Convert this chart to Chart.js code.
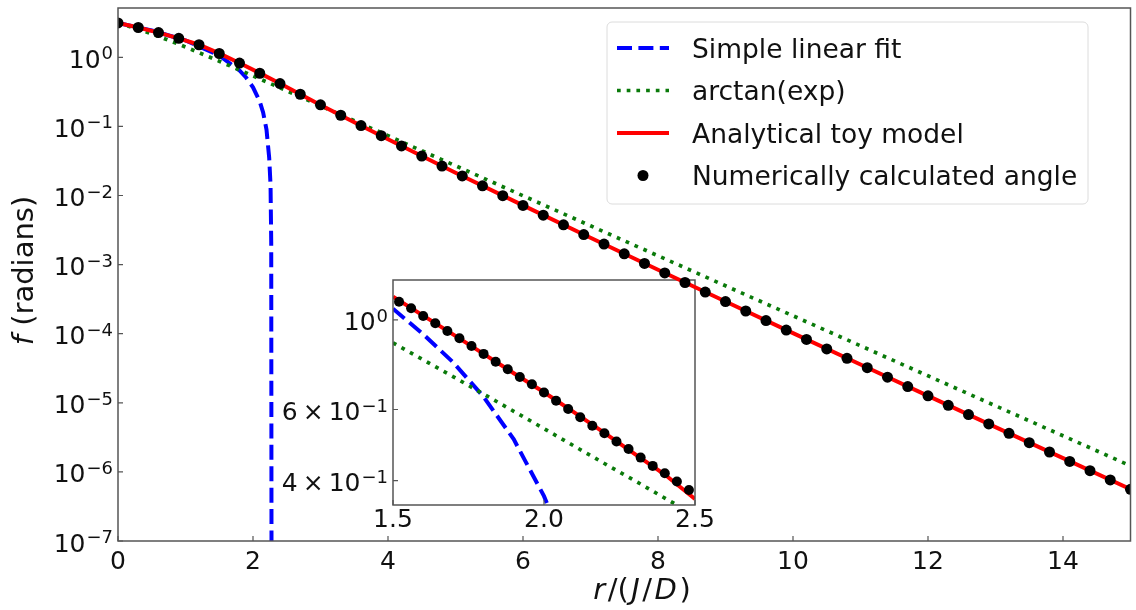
<!DOCTYPE html>
<html>
<head>
<meta charset="utf-8">
<script src="https://cdn.jsdelivr.net/npm/chart.js@4.4.0/dist/chart.umd.min.js"></script>
<style>
    html, body { margin: 0; padding: 0; background: #fff; }
    #wrap { position: relative; width: 1136px; height: 610px; overflow: hidden; }
    #wrap canvas { position: absolute; left: 0; top: 0; }
    #inset { z-index: 1; }
    #main { z-index: 2; }
</style>
</head>
<body>
<div id="wrap">
    <canvas id="inset" width="1136" height="610"></canvas>
    <canvas id="main" width="1136" height="610"></canvas>
</div>
<script>
// --- DATA: r in units of J/D, f in radians ---
const dotR = [0, 0.3, 0.6, 0.9, 1.2, 1.5, 1.8, 2.1, 2.4, 2.7, 3.0, 3.3, 3.6, 3.9, 4.2, 4.5, 4.8,
    5.1, 5.4, 5.7, 6.0, 6.3, 6.6, 6.9, 7.2, 7.5, 7.8, 8.1, 8.4, 8.7, 9.0, 9.3, 9.6, 9.9,
    10.2, 10.5, 10.8, 11.1, 11.4, 11.7, 12.0, 12.3, 12.6, 12.9, 13.2, 13.5, 13.8, 14.1, 14.4, 14.7, 15.0];
const dotF = [3.14, 2.70, 2.28, 1.88, 1.52, 1.135, 0.824, 0.588, 0.417, 0.292, 0.205, 0.145, 0.103, 0.0735,
    0.0522, 0.0372, 0.0267, 0.0192, 0.0138, 0.00995, 0.00719, 0.00520, 0.00376, 0.00272, 0.00198,
    0.00143, 0.00104, 7.57e-4, 5.51e-4, 4.01e-4, 2.92e-4, 2.13e-4, 1.55e-4, 1.13e-4, 8.26e-5,
    6.03e-5, 4.41e-5, 3.22e-5, 2.35e-5, 1.72e-5, 1.26e-5, 9.2e-6, 6.75e-6, 4.94e-6, 3.62e-6,
    2.65e-6, 1.94e-6, 1.42e-6, 1.04e-6, 7.65e-7, 5.6e-7];

const toyR = [0, 0.3, 0.6, 0.9, 1.2, 1.5, 1.8, 2.1, 2.4, 2.7, 3.0, 3.5, 4, 5, 6, 7, 8, 9, 10, 11, 12, 13, 14, 15];
const toyF = [3.14, 2.70, 2.28, 1.88, 1.52, 1.14, 0.826, 0.59, 0.418, 0.291, 0.204, 0.1146, 0.0650,
    0.0214, 0.00719, 0.00245, 8.42e-4, 2.92e-4, 1.02e-4, 3.58e-5, 1.26e-5, 4.45e-6, 1.58e-6, 5.61e-7];

const arctanR = [0, 0.3, 0.6, 0.9, 1.2, 1.5, 1.8, 2.1, 2.4, 2.7, 3.0, 3.5, 4, 5, 6, 7, 8, 9, 10, 11, 12, 13, 14, 15];
const arctanF = [3.1416, 2.550, 2.007, 1.545, 1.170, 0.878, 0.655, 0.4874, 0.3619, 0.2684, 0.1990,
    0.1208, 0.0733, 0.02695, 0.009915, 0.003648, 0.001342, 4.936e-4, 1.816e-4, 6.68e-5,
    2.458e-5, 9.04e-6, 3.33e-6, 1.224e-6];

const linR = [0, 0.5, 1.0, 1.5, 1.8, 1.9, 2.0, 2.1, 2.15, 2.2, 2.24, 2.26, 2.27, 2.275];
const linF = [3.1416, 2.448, 1.755, 1.061, 0.645, 0.506, 0.368, 0.229, 0.159, 0.090, 0.035, 0.0140, 0.0021, 1e-8];

// zoom on the core region
const insetDotR = [1.52, 1.56, 1.60, 1.64, 1.68, 1.72, 1.76, 1.80, 1.84, 1.88, 1.92, 1.96, 2.00,
    2.04, 2.08, 2.12, 2.16, 2.20, 2.24, 2.28, 2.32, 2.36, 2.40, 2.44, 2.48];
const insetDotF = [1.11, 1.069, 1.023, 0.981, 0.939, 0.901, 0.862, 0.824, 0.788, 0.755, 0.722, 0.693, 0.661,
    0.631, 0.602, 0.574, 0.547, 0.524, 0.500, 0.479, 0.456, 0.435, 0.417, 0.398, 0.379];
const insetR = [1.5, 1.6, 1.7, 1.8, 1.9, 2.0, 2.1, 2.2, 2.3, 2.4, 2.5];
const insetToyF = [1.142, 1.025, 0.92, 0.824, 0.738, 0.662, 0.59, 0.525, 0.466, 0.414, 0.360];
const insetArctanF = [0.878, 0.797, 0.723, 0.655, 0.594, 0.538, 0.487, 0.441, 0.400, 0.362, 0.328];
const insetLinR = [1.5, 1.6, 1.7, 1.8, 1.9, 2.0, 2.05, 2.1];
const insetLinF = [1.066, 0.922, 0.784, 0.645, 0.506, 0.366, 0.298, 0.229];

// ticks
const mainXTicks = [0, 2, 4, 6, 8, 10, 12, 14];
const mainXTickLabels = ['0', '2', '4', '6', '8', '10', '12', '14'];
const mainYTicks = [1, 1e-1, 1e-2, 1e-3, 1e-4, 1e-5, 1e-6, 1e-7];
const mainYTickLabels = ['10^0', '10^\u22121', '10^\u22122', '10^\u22123', '10^\u22124', '10^\u22125', '10^\u22126', '10^\u22127'];
const insetXTicks = [1.5, 2.0, 2.5];
const insetXTickLabels = ['1.5', '2.0', '2.5'];
const insetYTicks = [1, 0.6, 0.4];
const insetYTickLabels = ['10^0', '6\u2009\u00d7\u200910^\u22121', '4\u2009\u00d7\u200910^\u22121'];

const FONT = '"DejaVu Sans", sans-serif';
const TEXT = '#111';
const pts = (xs, ys) => xs.map((x, i) => ({ x: x, y: ys[i] }));

// "10^-3" style label: base text plus a raised, smaller exponent, right aligned
function drawPowerLabel(ctx, label, xRight, yTick, size) {
    const [base, exp] = label.split('^');
    const supSize = Math.round(size * 0.7);
    ctx.font = supSize + 'px ' + FONT;
    const wSup = ctx.measureText(exp).width;
    ctx.font = size + 'px ' + FONT;
    const wBase = ctx.measureText(base).width;
    const x0 = xRight - wSup - wBase - 1;
    ctx.textAlign = 'left';
    ctx.textBaseline = 'alphabetic';
    ctx.fillText(base, x0, yTick + size * 0.42);
    ctx.font = supSize + 'px ' + FONT;
    ctx.fillText(exp, x0 + wBase + 1, yTick + 2);
}

// text made of upright and italic pieces, centred on (x, y)
function drawMixed(ctx, parts, x, y, size, gap) {
    gap = gap || 0;
    let total = 0;
    parts.forEach(p => {
        ctx.font = (p.it ? 'italic ' : '') + size + 'px ' + FONT;
        p.w = ctx.measureText(p.t).width;
        total += p.w;
    });
    total += gap * (parts.length - 1);
    let cx = x - total / 2;
    ctx.textAlign = 'left';
    ctx.textBaseline = 'middle';
    parts.forEach(p => {
        ctx.font = (p.it ? 'italic ' : '') + size + 'px ' + FONT;
        ctx.fillText(p.t, cx, y);
        cx += p.w + gap;
    });
}

function axesPlugin(cfg) {
    return {
        id: 'mplAxes',
        afterDatasetsDraw(chart) {
            const { ctx, chartArea: a } = chart;
            const xs = chart.scales.x, ys = chart.scales.y;
            ctx.save();
            ctx.strokeStyle = '#555';
            ctx.lineWidth = 1.5;
            ctx.strokeRect(a.left, a.top, a.right - a.left, a.bottom - a.top);

            // inward ticks
            ctx.lineWidth = 1.2;
            ctx.beginPath();
            cfg.xTicks.forEach(v => {
                const px = xs.getPixelForValue(v);
                ctx.moveTo(px, a.bottom);
                ctx.lineTo(px, a.bottom - 5);
            });
            cfg.yTicks.forEach(v => {
                const py = ys.getPixelForValue(v);
                ctx.moveTo(a.left, py);
                ctx.lineTo(a.left + 5, py);
            });
            ctx.stroke();

            ctx.fillStyle = TEXT;
            ctx.font = cfg.size + 'px ' + FONT;
            ctx.textAlign = 'center';
            ctx.textBaseline = 'alphabetic';
            cfg.xTicks.forEach((v, i) => {
                ctx.fillText(cfg.xLabels[i], xs.getPixelForValue(v), a.bottom + cfg.xLabelDy);
            });
            cfg.yTicks.forEach((v, i) => {
                drawPowerLabel(ctx, cfg.yLabels[i], a.left - 5, ys.getPixelForValue(v), cfg.size);
            });

            if (cfg.xTitle) {
                drawMixed(ctx, cfg.xTitle, cfg.xTitleX, cfg.xTitleY, cfg.titleSize, 2.5);
            }
            if (cfg.yTitle) {
                ctx.translate(cfg.yTitleX, (a.top + a.bottom) / 2 - 4);
                ctx.rotate(-Math.PI / 2);
                drawMixed(ctx, cfg.yTitle, 0, 0, cfg.titleSize, 0);
            }
            ctx.restore();
        }
    };
}

// legend box in the upper right of the main axes
const legendPlugin = {
    id: 'boxLegend',
    afterDraw(chart) {
        const ctx = chart.ctx;
        const box = { left: 607, top: 22, right: 1088, bottom: 204 };
        ctx.save();
        ctx.beginPath();
        ctx.roundRect(box.left, box.top, box.right - box.left, box.bottom - box.top, 5);
        ctx.fillStyle = 'rgba(255,255,255,0.8)';
        ctx.fill();
        ctx.strokeStyle = '#dcdcdc';
        ctx.lineWidth = 1;
        ctx.stroke();

        chart.data.datasets.forEach((ds, i) => {
            const cy = box.top + 26 + i * 42.5;
            const hx0 = box.left + 10, hx1 = box.left + 62;
            if (ds.showLine === false) {
                ctx.beginPath();
                ctx.arc((hx0 + hx1) / 2, cy, ds.pointRadius, 0, Math.PI * 2);
                ctx.fillStyle = ds.pointBackgroundColor;
                ctx.fill();
            } else {
                ctx.beginPath();
                ctx.setLineDash(ds.borderDash || []);
                ctx.lineCap = 'butt';
                ctx.strokeStyle = ds.borderColor;
                ctx.lineWidth = ds.borderWidth;
                ctx.moveTo(hx0, cy);
                ctx.lineTo(hx1, cy);
                ctx.stroke();
                ctx.setLineDash([]);
            }
            ctx.fillStyle = TEXT;
            ctx.font = '26.5px ' + FONT;
            ctx.textAlign = 'left';
            ctx.textBaseline = 'alphabetic';
            ctx.fillText(ds.label, box.left + 85, cy + 9.5);
        });
        ctx.restore();
    }
};

function seriesSets(lin, arc, toy, dots, dotRadius) {
    return [
        {
            label: 'Simple linear fit', data: lin, borderColor: '#0000ff', borderWidth: 4,
            borderDash: [15, 6.4], pointRadius: 0, order: 3, clip: 0
        },
        {
            label: 'arctan(exp)', data: arc, borderColor: '#0a7a0a', borderWidth: 3.7,
            borderDash: [3.7, 6], pointRadius: 0, order: 2, clip: 0
        },
        {
            label: 'Analytical toy model', data: toy, borderColor: '#ff0000', borderWidth: 4,
            pointRadius: 0, order: 1, clip: 0
        },
        {
            label: 'Numerically calculated angle', data: dots, showLine: false,
            pointRadius: dotRadius, pointBackgroundColor: '#000', pointBorderWidth: 0,
            borderColor: '#000', order: 0, clip: 0
        }
    ];
}

const baseOptions = (pad, xMin, xMax, yMin, yMax) => ({
    responsive: false,
    animation: false,
    events: [],
    layout: { padding: pad },
    plugins: { legend: { display: false }, tooltip: { enabled: false } },
    elements: { line: { tension: 0 } },
    scales: {
        x: { type: 'linear', bounds: 'data', min: xMin, max: xMax, display: false },
        y: { type: 'logarithmic', bounds: 'data', min: yMin, max: yMax, display: false }
    }
});

// --- MAIN AXES ---
new Chart(document.getElementById('main'), {
    type: 'line',
    data: {
        datasets: seriesSets(pts(linR, linF), pts(arctanR, arctanF), pts(toyR, toyF), pts(dotR, dotF), 5.5)
    },
    options: baseOptions({ left: 118, top: 8, right: 1, bottom: 69 }, 0, 15, 1e-7, 5.17),
    plugins: [axesPlugin({
        xTicks: mainXTicks, xLabels: mainXTickLabels,
        yTicks: mainYTicks, yLabels: mainYTickLabels,
        size: 25, xLabelDy: 28, titleSize: 29,
        xTitle: [{ t: 'r', it: true }, { t: '/(' }, { t: 'J', it: true }, { t: '/' }, { t: 'D', it: true }, { t: ')' }],
        xTitleX: 642, xTitleY: 591,
        yTitle: [{ t: 'f', it: true }, { t: ' (radians)' }],
        yTitleX: 25
    }), legendPlugin]
});

// --- INSET AXES ---
new Chart(document.getElementById('inset'), {
    type: 'line',
    data: {
        datasets: seriesSets(pts(insetLinR, insetLinF), pts(insetR, insetArctanF), pts(insetR, insetToyF),
            pts(insetDotR, insetDotF), 5)
    },
    options: baseOptions({ left: 393, top: 280, right: 441, bottom: 105 }, 1.5, 2.5, 0.348, 1.256),
    plugins: [axesPlugin({
        xTicks: insetXTicks, xLabels: insetXTickLabels,
        yTicks: insetYTicks, yLabels: insetYTickLabels,
        size: 25, xLabelDy: 22
    })]
});
</script>
</body>
</html>
